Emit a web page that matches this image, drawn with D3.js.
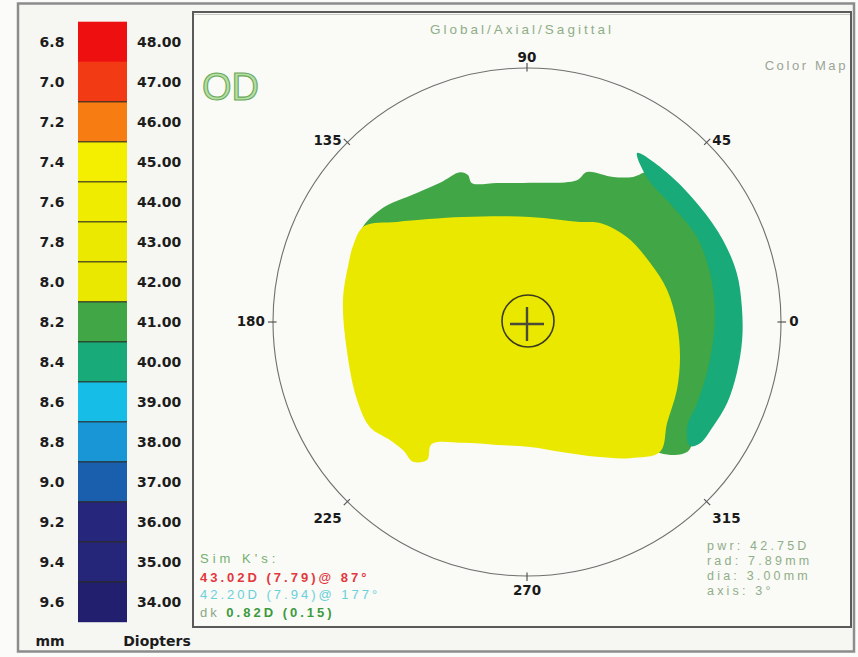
<!DOCTYPE html>
<html>
<head>
<meta charset="utf-8">
<script src="https://cdn.jsdelivr.net/npm/d3@7"></script>
<style>
  html, body { margin: 0; padding: 0; background: #ffffff; }
  svg { display: block; }
</style>
</head>
<body>
<svg id="chart" width="858" height="657"></svg>
<script>
// ---- Colour scale: radius of curvature (mm) beside keratometric power (D) ----
const radiusLabels = ["6.8","7.0","7.2","7.4","7.6","7.8","8.0","8.2","8.4","8.6","8.8","9.0","9.2","9.4","9.6"];
const powerLabels  = ["48.00","47.00","46.00","45.00","44.00","43.00","42.00","41.00","40.00","39.00","38.00","37.00","36.00","35.00","34.00"];
const powerColors  = ["#ee1010","#f23a14","#f77d12","#f4ee00","#f0ec00","#ece900","#ebe800","#40a646","#18aa78","#16bde6","#1896d6","#1a5fae","#26277c","#25257a","#211f6e"];

// ---- Meridian labels around the map (degrees) ----
const meridians = [0, 45, 90, 135, 180, 225, 270, 315];

// ---- Iso-power zones, outlined in polar form: [meridian deg, distance from centre mm] ----
// 41.00 D band (top and temporal side; its inner edge is hidden beneath the 42.00 D zone)
const zone41 = [
  [152.4, 3.71], [142.7, 3.64], [130.5, 3.34], [122.0, 3.23], [114.1, 3.23], [111.9, 3.12],
  [111.6, 2.94], [102.2, 2.80], [88.8, 2.74], [70.6, 2.96], [68.2, 3.18], [59.3, 3.32],
  [53.8, 3.54], [50.4, 3.85], [38.2, 3.85], [26.6, 3.95], [15.0, 3.95], [4.6, 3.95],
  [-5.5, 3.92], [-15.8, 3.92], [-25.5, 3.95], [-33.3, 3.98], [-39.1, 4.06], [-44.6, 3.67],
  [-50.0, 2.50], [-90.0, 1.50], [-160.0, 2.00], [-195.0, 3.00]
];
// 40.00 D crescent on the right edge
const zone40 = [
  [56.9, 3.97], [46.8, 4.03], [33.6, 4.09], [22.7, 4.18], [13.1, 4.24], [4.0, 4.24],
  [-4.8, 4.25], [-13.7, 4.25], [-22.0, 4.25], [-29.4, 4.20], [-35.0, 4.16], [-37.3, 4.03],
  [-33.3, 3.77], [-25.5, 3.71], [-15.8, 3.68], [-5.5, 3.68], [4.6, 3.71], [15.0, 3.73],
  [26.6, 3.74], [38.2, 3.66], [50.4, 3.70]
];
// 42.00 D central zone
const zone42 = [
  [-12.9, 3.09], [-0.4, 2.95], [12.9, 2.83], [25.6, 2.69], [40.4, 2.58], [53.6, 2.42],
  [62.1, 2.23], [88.4, 2.07], [121.4, 2.42], [142.4, 3.23], [149.5, 3.72], [156.0, 3.74],
  [162.7, 3.69], [173.2, 3.65], [188.8, 3.59], [204.6, 3.68], [213.8, 3.72], [220.7, 3.56],
  [225.9, 3.51], [230.8, 3.55], [234.1, 3.35], [232.0, 3.05], [242.1, 2.69], [256.3, 2.49],
  [271.4, 2.46], [285.5, 2.66], [297.4, 2.99], [307.1, 3.36], [315.7, 3.66], [324.2, 3.40],
  [335.6, 3.24]
];
const zonePowers = ["41.00", "40.00", "42.00"];
const zoneOutlines = [zone41, zone40, zone42];

// ---- Readouts ----
const simKTitle = "Sim K's:";
const simKSteep = "43.02D (7.79)@  87°";
const simKFlat  = "42.20D (7.94)@ 177°";
const simKDeltaLabel = "dk";
const simKDelta = "0.82D (0.15)";
const pointReadout = ["pwr: 42.75D", "rad: 7.89mm", "dia: 3.00mm", "axis: 3°"];

// =====================================================================
const svg = d3.select("#chart");
const W = 858, H = 657;

// page and frames
svg.append("rect").attr("x", 0).attr("y", 0).attr("width", W).attr("height", H).attr("fill", "#fbfbfa");
svg.append("rect").attr("x", 18).attr("y", 3.5).attr("width", 836).attr("height", 648)
  .attr("fill", "#f6f6f2").attr("stroke", "#8c8c8c").attr("stroke-width", 2.5);
svg.append("rect").attr("x", 193).attr("y", 12).attr("width", 658).attr("height", 615)
  .attr("fill", "#fafaf7").attr("stroke", "#5a5a5a").attr("stroke-width", 2);
svg.append("line").attr("x1", 194).attr("x2", 850).attr("y1", 14.5).attr("y2", 14.5)
  .attr("stroke", "#c8c8c4").attr("stroke-width", 1);

// ---- legend ----
const legendTop = 21.7, legendBottom = 621.7;
const band = d3.scaleBand().domain(powerLabels).range([legendTop, legendBottom]);
const color = d3.scaleOrdinal().domain(powerLabels).range(powerColors);
const legend = svg.append("g");
legend.selectAll("rect.sw").data(powerLabels).join("rect")
  .attr("class", "sw")
  .attr("x", 78).attr("width", 49)
  .attr("y", d => band(d)).attr("height", band.bandwidth() + 0.5)
  .attr("fill", d => color(d));
legend.selectAll("line.sep").data(powerLabels.slice(2)).join("line")
  .attr("class", "sep")
  .attr("x1", 78).attr("x2", 127)
  .attr("y1", d => band(d)).attr("y2", d => band(d))
  .attr("stroke", "#2b2b20").attr("stroke-opacity", 0.75).attr("stroke-width", 1.4);

const legendFont = "'DejaVu Sans', 'Liberation Sans', sans-serif";
legend.selectAll("text.mm").data(radiusLabels).join("text")
  .attr("class", "mm")
  .attr("x", 52)
  .attr("y", (d, i) => band(powerLabels[i]) + band.bandwidth() / 2)
  .attr("dy", "0.36em")
  .attr("text-anchor", "middle")
  .attr("font-family", legendFont).attr("font-weight", "bold").attr("font-size", 14)
  .attr("fill", "#1c1c1c")
  .text(d => d);
legend.selectAll("text.dpt").data(powerLabels).join("text")
  .attr("class", "dpt")
  .attr("x", 137)
  .attr("y", d => band(d) + band.bandwidth() / 2)
  .attr("dy", "0.36em")
  .attr("font-family", legendFont).attr("font-weight", "bold").attr("font-size", 14)
  .attr("fill", "#1c1c1c")
  .text(d => d);
legend.append("text").attr("x", 50).attr("y", 646).attr("text-anchor", "middle")
  .attr("font-family", legendFont).attr("font-weight", "bold").attr("font-size", 14)
  .attr("fill", "#1c1c1c").text("mm");
legend.append("text").attr("x", 157).attr("y", 646).attr("text-anchor", "middle")
  .attr("font-family", legendFont).attr("font-weight", "bold").attr("font-size", 14)
  .attr("fill", "#1c1c1c").text("Diopters");

// ---- panel headings ----
const smallFont = "'Liberation Sans', Arial, sans-serif";
svg.append("text").attr("x", 522).attr("y", 34).attr("text-anchor", "middle")
  .attr("font-family", smallFont).attr("font-size", 13.5).attr("letter-spacing", 3)
  .attr("fill", "#8fae86")
  .text("Global/Axial/Sagittal");
svg.append("text").attr("x", 848).attr("y", 70).attr("text-anchor", "end")
  .attr("font-family", smallFont).attr("font-size", 13).attr("letter-spacing", 2.6)
  .attr("fill", "#9aa596")
  .text("Color Map");
svg.append("text").attr("x", 202).attr("y", 100)
  .attr("font-family", smallFont).attr("font-size", 38)
  .attr("fill", "#b4dea2").attr("stroke", "#6aa85c").attr("stroke-width", 1.1)
  .text("OD");

// ---- polar map ----
const cx = 527, cy = 322;
const rScale = d3.scaleLinear().domain([0, 5]).range([0, 254]);
const toRad = deg => (90 - deg) * Math.PI / 180;
const map = svg.append("g").attr("transform", `translate(${cx},${cy})`);

const outline = d3.lineRadial()
  .angle(d => toRad(d[0]))
  .radius(d => rScale(d[1]))
  .curve(d3.curveCatmullRomClosed.alpha(0.5));

map.selectAll("path.zone").data(zoneOutlines).join("path")
  .attr("class", "zone")
  .attr("d", outline)
  .attr("fill", (d, i) => color(zonePowers[i]));

// outer ring and meridian ticks
map.append("circle").attr("r", rScale(5)).attr("fill", "none")
  .attr("stroke", "#6f6f6f").attr("stroke-width", 1.1);
map.selectAll("line.tick").data(meridians).join("line")
  .attr("class", "tick")
  .attr("x1", d => rScale(4.93) * Math.cos(d * Math.PI / 180))
  .attr("y1", d => -rScale(4.93) * Math.sin(d * Math.PI / 180))
  .attr("x2", d => rScale(5.1) * Math.cos(d * Math.PI / 180))
  .attr("y2", d => -rScale(5.1) * Math.sin(d * Math.PI / 180))
  .attr("stroke", "#555").attr("stroke-width", 1.2);

map.selectAll("text.mer").data(meridians).join("text")
  .attr("class", "mer")
  .attr("x", d => rScale(5.16) * Math.cos(d * Math.PI / 180))
  .attr("y", d => {
    const s = Math.sin(d * Math.PI / 180);
    const diag = Math.abs(Math.cos(d * Math.PI / 180)) > 0.1 && Math.abs(s) > 0.1;
    return -rScale(5.2) * s + (s < -0.1 ? 9 : 4) + (diag ? (s > 0 ? 6 : 5) : 0);
  })
  .attr("text-anchor", d => {
    const c = Math.cos(d * Math.PI / 180);
    return c > 0.1 ? "start" : (c < -0.1 ? "end" : "middle");
  })
  .attr("font-family", legendFont).attr("font-weight", "bold").attr("font-size", 13.5)
  .attr("fill", "#1a1a1a")
  .text(d => d);

// centre marker
map.append("circle").attr("cx", 1).attr("cy", -1).attr("r", 26).attr("fill", "none")
  .attr("stroke", "#3a3a22").attr("stroke-width", 1.6);
map.append("line").attr("x1", -17).attr("x2", 17).attr("y1", 2).attr("y2", 2)
  .attr("stroke", "#4a4a3a").attr("stroke-width", 2.4);
map.append("line").attr("x1", 0).attr("x2", 0).attr("y1", -15).attr("y2", 19)
  .attr("stroke", "#4a4a3a").attr("stroke-width", 2.4);

// ---- readouts ----
const readFont = "'Liberation Sans', Arial, sans-serif";
const simK = svg.append("g").attr("font-family", readFont).attr("font-size", 13).attr("letter-spacing", 3);
simK.append("text").attr("x", 200).attr("y", 563).attr("fill", "#74b070").attr("letter-spacing", 4).text(simKTitle);
simK.append("text").attr("x", 200).attr("y", 582).attr("fill", "#e2383e").attr("font-weight", "bold").text(simKSteep);
simK.append("text").attr("x", 200).attr("y", 599).attr("fill", "#6ad0da").text(simKFlat);
const dk = simK.append("text").attr("x", 200).attr("y", 617);
dk.append("tspan").attr("fill", "#8aa886").text(simKDeltaLabel + "  ");
dk.append("tspan").attr("fill", "#3d9a3d").attr("font-weight", "bold").text(simKDelta);

svg.append("g").attr("font-family", readFont).attr("font-size", 12.5).attr("letter-spacing", 3.2)
  .attr("fill", "#8fae88")
  .selectAll("text").data(pointReadout).join("text")
  .attr("x", 707).attr("y", (d, i) => 550 + i * 15)
  .text(d => d);
</script>
</body>
</html>
